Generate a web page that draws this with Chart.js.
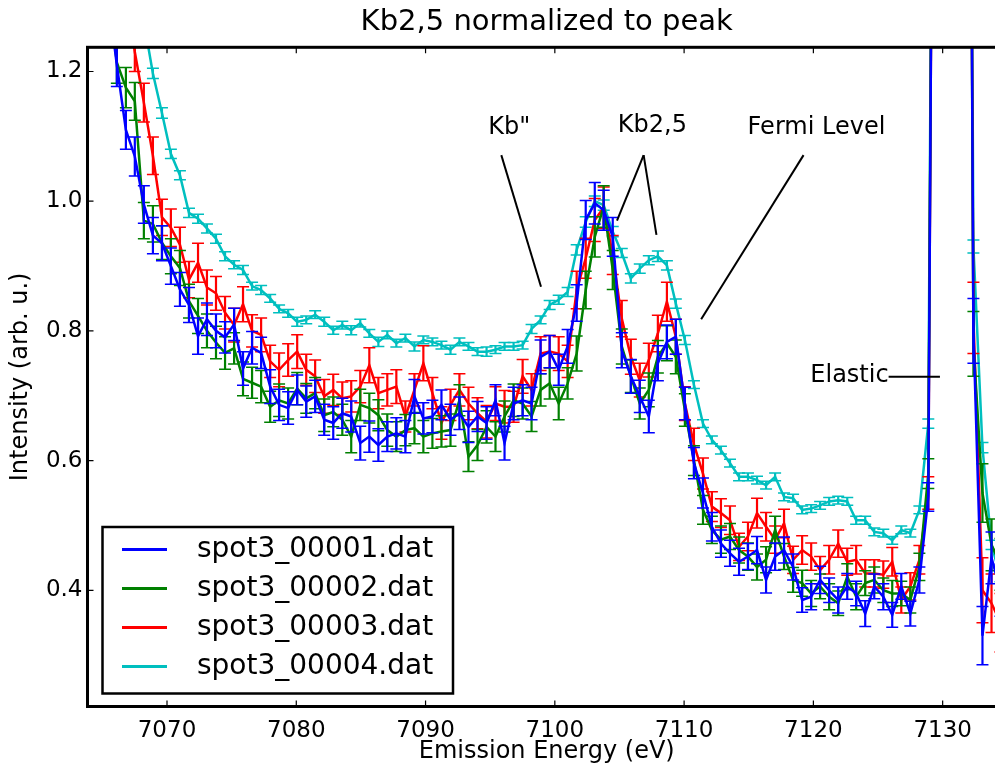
<!DOCTYPE html>
<html>
<head>
<meta charset="utf-8">
<script src="https://cdn.jsdelivr.net/npm/chart.js@4.4.0/dist/chart.umd.min.js"></script>
<style>
  html, body { margin: 0; padding: 0; background: #fff; overflow: hidden; }
  #wrap { width: 1006px; height: 764px; }
</style>
</head>
<body>
<div id="wrap"><canvas id="c" width="1006" height="764"></canvas></div>
<script>
// ===== Kb2,5 normalized to peak — 4 spots, error bars =====

const energy = [
  7065.42, 7066.12, 7066.82, 7067.51, 7068.21, 7068.91, 7069.61, 7070.30, 7071.00, 7071.70,
  7072.40, 7073.09, 7073.79, 7074.49, 7075.19, 7075.88, 7076.58, 7077.28, 7077.98, 7078.67,
  7079.37, 7080.07, 7080.77, 7081.46, 7082.16, 7082.86, 7083.56, 7084.25, 7084.95, 7085.65,
  7086.35, 7087.04, 7087.74, 7088.44, 7089.14, 7089.83, 7090.53, 7091.23, 7091.93, 7092.62,
  7093.32, 7094.02, 7094.72, 7095.41, 7096.11, 7096.81, 7097.51, 7098.20, 7098.90, 7099.60,
  7100.30, 7100.99, 7101.69, 7102.39, 7103.09, 7103.78, 7104.48, 7105.18, 7105.88, 7106.57,
  7107.27, 7107.97, 7108.67, 7109.36, 7110.06, 7110.76, 7111.46, 7112.15, 7112.85, 7113.55,
  7114.25, 7114.94, 7115.64, 7116.34, 7117.04, 7117.73, 7118.43, 7119.13, 7119.83, 7120.52,
  7121.22, 7121.92, 7122.62, 7123.31, 7124.01, 7124.71, 7125.41, 7126.10, 7126.80, 7127.50,
  7128.20, 7128.89, 7129.59, 7130.29, 7130.99, 7131.68, 7132.38, 7133.08, 7133.78, 7134.47,
  7135.17
];

const spot1 = [
  1.32, 1.21, 1.11, 1.069, 0.995, 0.947, 0.935, 0.90, 0.864, 0.84,
  0.792, 0.818, 0.80, 0.79, 0.81, 0.742, 0.774, 0.766, 0.714, 0.686,
  0.681, 0.709, 0.691, 0.699, 0.663, 0.658, 0.673, 0.668, 0.627, 0.637,
  0.624, 0.637, 0.642, 0.637, 0.699, 0.665, 0.668, 0.686, 0.663, 0.673,
  0.652, 0.668, 0.658, 0.693, 0.627, 0.688, 0.693, 0.688, 0.76, 0.768,
  0.74, 0.776, 0.843, 0.971, 0.997, 0.986, 0.945, 0.77, 0.73, 0.699,
  0.668, 0.75, 0.783, 0.791, 0.688, 0.596, 0.55, 0.498, 0.472, 0.457,
  0.444, 0.452, 0.462, 0.416, 0.452, 0.462, 0.436, 0.385, 0.39, 0.416,
  0.40, 0.385, 0.406, 0.395, 0.364, 0.406, 0.39, 0.362, 0.406, 0.364,
  0.416, 0.544, 2.9, 9.0, 10.0, 3.5, 0.80, 0.33, 0.45, 0.40,
  0.42
];
const err1 = [
  .035, .033, .03, .03, .029, .028, .027, .028, .026, .027,
  .028, .025, .026, .024, .025, .026, .025, .024, .026, .024,
  .025, .023, .024, .025, .024, .025, .023, .024, .026, .024,
  .025, .023, .024, .025, .026, .024, .025, .023, .024, .025,
  .024, .023, .025, .024, .026, .025, .024, .025, .026, .025,
  .024, .026, .028, .03, .032, .031, .03, .027, .026, .025,
  .025, .027, .026, .027, .025, .024, .023, .022, .021, .02,
  .021, .02, .021, .02, .021, .02, .02, .019, .02, .021,
  .019, .02, .02, .019, .02, .019, .02, .019, .02, .019,
  .02, .022, .1, .15, .15, .1, .05, .045, .04, .04,
  .04
];

const spot2 = [
  1.33, 1.214, 1.175, 1.154, 0.97, 0.965, 0.936, 0.915, 0.897, 0.846,
  0.823, 0.80, 0.782, 0.766, 0.773, 0.726, 0.72, 0.714, 0.683, 0.693,
  0.688, 0.711, 0.696, 0.704, 0.67, 0.675, 0.663, 0.637, 0.686, 0.681,
  0.67, 0.647, 0.637, 0.647, 0.65, 0.637, 0.642, 0.645, 0.647, 0.693,
  0.606, 0.624, 0.652, 0.637, 0.668, 0.693, 0.688, 0.668, 0.709, 0.719,
  0.688, 0.719, 0.765, 0.863, 0.945, 0.992, 0.894, 0.776, 0.73, 0.688,
  0.709, 0.76, 0.781, 0.76, 0.678, 0.60, 0.524, 0.493, 0.478, 0.483,
  0.462, 0.452, 0.436, 0.447, 0.493, 0.452, 0.416, 0.411, 0.395, 0.406,
  0.39, 0.38, 0.421, 0.39, 0.411, 0.416, 0.40, 0.395, 0.395, 0.385,
  0.436, 0.58, 2.9, 9.0, 10.0, 3.5, 0.78, 0.55, 0.47, 0.44,
  0.45
];
const err2 = [
  .034, .032, .031, .029, .028, .028, .026, .027, .027, .026,
  .027, .026, .025, .025, .024, .026, .024, .025, .024, .025,
  .024, .025, .023, .024, .025, .023, .024, .025, .024, .023,
  .024, .025, .023, .024, .024, .025, .023, .024, .025, .024,
  .023, .024, .025, .023, .024, .025, .024, .023, .025, .024,
  .025, .024, .027, .029, .031, .032, .03, .027, .025, .024,
  .026, .025, .027, .026, .025, .023, .022, .021, .021, .02,
  .02, .021, .02, .02, .021, .02, .019, .02, .02, .019,
  .02, .019, .02, .02, .019, .02, .019, .02, .019, .02,
  .021, .023, .1, .15, .15, .1, .05, .045, .04, .04,
  .04
];

const spot3 = [
  1.6, 1.45, 1.33, 1.23, 1.152, 1.07, 0.975, 0.959, 0.933, 0.879,
  0.905, 0.867, 0.858, 0.828, 0.809, 0.841, 0.80, 0.794, 0.753, 0.74,
  0.755, 0.768, 0.74, 0.73, 0.699, 0.709, 0.696, 0.699, 0.714, 0.747,
  0.704, 0.709, 0.714, 0.668, 0.709, 0.75, 0.704, 0.658, 0.686, 0.709,
  0.688, 0.673, 0.66, 0.688, 0.683, 0.683, 0.73, 0.709, 0.765, 0.768,
  0.765, 0.753, 0.863, 0.912, 0.971, 0.99, 0.917, 0.819, 0.76, 0.724,
  0.755, 0.796, 0.845, 0.791, 0.688, 0.625, 0.58, 0.529, 0.519, 0.508,
  0.467, 0.483, 0.519, 0.498, 0.478, 0.503, 0.447, 0.462, 0.452, 0.431,
  0.447, 0.472, 0.444, 0.447, 0.426, 0.426, 0.424, 0.444, 0.385, 0.406,
  0.447, 0.55, 2.9, 9.0, 10.0, 3.5, 0.82, 0.40, 0.38, 0.35,
  0.37
];
const err3 = [
  .036, .034, .032, .03, .03, .029, .028, .029, .027, .028,
  .03, .027, .026, .025, .026, .027, .025, .026, .025, .026,
  .025, .026, .024, .025, .026, .024, .025, .024, .025, .027,
  .024, .025, .026, .024, .025, .027, .024, .025, .024, .025,
  .025, .024, .025, .026, .025, .024, .026, .025, .026, .025,
  .026, .025, .029, .031, .033, .032, .03, .028, .027, .026,
  .026, .028, .03, .027, .026, .025, .024, .023, .022, .022,
  .021, .022, .023, .022, .021, .022, .021, .022, .021, .021,
  .022, .021, .021, .022, .021, .021, .021, .022, .02, .021,
  .022, .025, .1, .15, .15, .1, .055, .05, .045, .045,
  .045
];

const spot4 = [
  1.65, 1.55, 1.45, 1.36, 1.277, 1.197, 1.136, 1.073, 1.040, 0.982,
  0.973, 0.958, 0.942, 0.915, 0.902, 0.894, 0.869, 0.863, 0.850, 0.834,
  0.827, 0.814, 0.817, 0.825, 0.814, 0.801, 0.809, 0.801, 0.812, 0.796,
  0.783, 0.794, 0.781, 0.789, 0.776, 0.786, 0.783, 0.778, 0.771, 0.783,
  0.776, 0.768, 0.768, 0.771, 0.776, 0.776, 0.778, 0.803, 0.817, 0.840,
  0.848, 0.860, 0.925, 0.968, 1.000, 0.994, 0.953, 0.920, 0.881, 0.896,
  0.909, 0.915, 0.901, 0.842, 0.786, 0.717, 0.657, 0.632, 0.616, 0.596,
  0.575, 0.575, 0.570, 0.562, 0.575, 0.544, 0.542, 0.524, 0.526, 0.531,
  0.537, 0.539, 0.537, 0.508, 0.508, 0.490, 0.488, 0.477, 0.493, 0.488,
  0.524, 0.657, 2.9, 9.0, 10.0, 3.5, 0.93, 0.62, 0.47, 0.42,
  0.44
];
const err4 = [
  .009, .009, .009, .008, .008, .008, .008, .007, .007, .007,
  .007, .007, .007, .007, .006, .007, .006, .007, .006, .006,
  .006, .007, .006, .006, .007, .006, .006, .007, .006, .006,
  .007, .006, .006, .006, .007, .006, .006, .006, .007, .006,
  .006, .006, .007, .006, .006, .006, .006, .007, .006, .007,
  .007, .007, .008, .008, .008, .008, .008, .007, .007, .007,
  .007, .008, .007, .007, .007, .006, .006, .006, .006, .006,
  .006, .006, .006, .006, .006, .006, .006, .006, .006, .006,
  .006, .006, .006, .006, .006, .006, .006, .006, .006, .006,
  .006, .007, .03, .05, .05, .03, .01, .008, .007, .007,
  .007
];

const seriesNames = ['spot3_00001.dat', 'spot3_00002.dat', 'spot3_00003.dat', 'spot3_00004.dat'];
const seriesColors = ['#0000ff', '#008000', '#ff0000', '#00bfbf'];
const seriesValues = [spot1, spot2, spot3, spot4];
const seriesErrors = [err1, err2, err3, err4];

const xTicks = [7070, 7080, 7090, 7100, 7110, 7120, 7130];
const yTicks = [0.4, 0.6, 0.8, 1.0, 1.2];
const X_MIN = 7063.85, X_MAX = 7134.9;
const Y_MIN = 0.2208, Y_MAX = 1.2373;

// annotations (data coords): text centre + line segments
const notes = [
  { text: 'Kb"', x: 7096.48, y: 1.113, align: 'center',
    lines: [[7095.86, 1.071, 7098.93, 0.868]] },
  { text: 'Kb2,5', x: 7107.55, y: 1.116, align: 'center',
    lines: [[7106.87, 1.071, 7104.81, 0.970], [7106.87, 1.071, 7107.86, 0.948]] },
  { text: 'Fermi Level', x: 7120.24, y: 1.113, align: 'center',
    lines: [[7119.24, 1.071, 7111.32, 0.818]] },
  { text: 'Elastic', x: 7125.82, y: 0.7303, align: 'right',
    lines: [[7125.82, 0.7294, 7129.79, 0.7294]] }
];

const FONT = "'DejaVu Sans', 'Liberation Sans', sans-serif";

// error bars drawn right after each dataset's line
const errorBars = {
  id: 'errorBars',
  afterDatasetDraw(chart, args) {
    const ds = chart.data.datasets[args.index];
    const { ctx, chartArea: a, scales: { x, y } } = chart;
    ctx.save();
    ctx.beginPath();
    ctx.rect(a.left, a.top, a.right - a.left, a.bottom - a.top);
    ctx.clip();
    ctx.strokeStyle = ds.borderColor;
    ds.data.forEach((p, i) => {
      const e = ds.errors[i];
      const px = x.getPixelForValue(p.x);
      const y0 = y.getPixelForValue(p.y - e), y1 = y.getPixelForValue(p.y + e);
      ctx.lineWidth = 2.2;
      ctx.beginPath(); ctx.moveTo(px, y0); ctx.lineTo(px, y1); ctx.stroke();
      ctx.lineWidth = 1.5;
      ctx.beginPath();
      ctx.moveTo(px - 6, y0); ctx.lineTo(px + 6, y0);
      ctx.moveTo(px - 6, y1); ctx.lineTo(px + 6, y1);
      ctx.stroke();
    });
    ctx.restore();
  }
};

// annotations, legend box, frame with inward ticks
const overlay = {
  id: 'overlay',
  afterDraw(chart) {
    const { ctx, chartArea: a, scales: { x, y } } = chart;
    ctx.save();

    // annotations
    ctx.strokeStyle = '#000'; ctx.fillStyle = '#000'; ctx.lineWidth = 2;
    ctx.font = '24px ' + FONT; ctx.textBaseline = 'middle';
    notes.forEach(n => {
      n.lines.forEach(l => {
        ctx.beginPath();
        ctx.moveTo(x.getPixelForValue(l[0]), y.getPixelForValue(l[1]));
        ctx.lineTo(x.getPixelForValue(l[2]), y.getPixelForValue(l[3]));
        ctx.stroke();
      });
      ctx.textAlign = n.align;
      ctx.fillText(n.text, x.getPixelForValue(n.x), y.getPixelForValue(n.y));
    });

    // legend
    const lx = 102.5, ly = 527, lw = 350.5, lh = 166.5;
    ctx.fillStyle = '#fff'; ctx.fillRect(lx, ly, lw, lh);
    ctx.lineWidth = 2.5; ctx.strokeStyle = '#000'; ctx.strokeRect(lx, ly, lw, lh);
    ctx.font = '28px ' + FONT; ctx.textAlign = 'left';
    seriesNames.forEach((name, i) => {
      const ry = 549.5 + i * 39;
      ctx.strokeStyle = seriesColors[i]; ctx.lineWidth = 3;
      ctx.beginPath(); ctx.moveTo(122, ry); ctx.lineTo(167, ry); ctx.stroke();
      ctx.fillStyle = '#000';
      ctx.fillText(name, 197, ry);
    });

    // ticks pointing inward
    ctx.strokeStyle = '#000'; ctx.lineWidth = 1.2;
    ctx.beginPath();
    xTicks.forEach(t => {
      const px = x.getPixelForValue(t);
      ctx.moveTo(px, a.bottom); ctx.lineTo(px, a.bottom - 6);
      ctx.moveTo(px, a.top); ctx.lineTo(px, a.top + 6);
    });
    yTicks.forEach(t => {
      const py = y.getPixelForValue(t);
      ctx.moveTo(a.left, py); ctx.lineTo(a.left + 6, py);
      ctx.moveTo(a.right, py); ctx.lineTo(a.right - 6, py);
    });
    ctx.stroke();

    // frame
    ctx.lineWidth = 3;
    ctx.strokeRect(a.left, a.top, a.right - a.left, a.bottom - a.top);
    ctx.restore();
  }
};

new Chart(document.getElementById('c'), {
  type: 'line',
  data: {
    datasets: seriesNames.map((name, s) => ({
      label: name,
      data: energy.map((e, i) => ({ x: e, y: seriesValues[s][i] })),
      errors: seriesErrors[s],
      borderColor: seriesColors[s],
      borderWidth: 2.5,
      pointRadius: 0,
      tension: 0
    }))
  },
  options: {
    responsive: false,
    animation: false,
    devicePixelRatio: 1,
    layout: { padding: 0 },
    plugins: {
      legend: { display: false },
      tooltip: { enabled: false },
      title: {
        display: true,
        text: 'Kb2,5 normalized to peak',
        fullSize: false,
        color: '#000',
        font: { family: FONT, size: 29, weight: 'normal' },
        padding: { top: 5.5, bottom: 7 }
      }
    },
    scales: {
      x: {
        type: 'linear', min: X_MIN, max: X_MAX,
        afterFit: s => { s.height = 57.5; },
        afterBuildTicks: s => { s.ticks = xTicks.map(v => ({ value: v })); },
        grid: { display: false, drawTicks: false },
        border: { display: false },
        ticks: { color: '#000', padding: 11, font: { family: FONT, size: 23 }, callback: v => String(v) },
        title: { display: true, text: 'Emission Energy (eV)', color: '#000',
                 font: { family: FONT, size: 24 }, padding: { top: 0, bottom: -2.5 } }
      },
      y: {
        type: 'linear', min: Y_MIN, max: Y_MAX,
        afterFit: s => { s.width = 87.5; },
        afterBuildTicks: s => { s.ticks = yTicks.map(v => ({ value: v })); },
        grid: { display: false, drawTicks: false },
        border: { display: false },
        ticks: { color: '#000', padding: 5, font: { family: FONT, size: 23 }, callback: v => v.toFixed(1) },
        title: { display: true, text: 'Intensity (arb. u.)', color: '#000',
                 font: { family: FONT, size: 24 }, padding: { top: 6, bottom: 0 } }
      }
    }
  },
  plugins: [errorBars, overlay]
});
</script>
</body>
</html>
